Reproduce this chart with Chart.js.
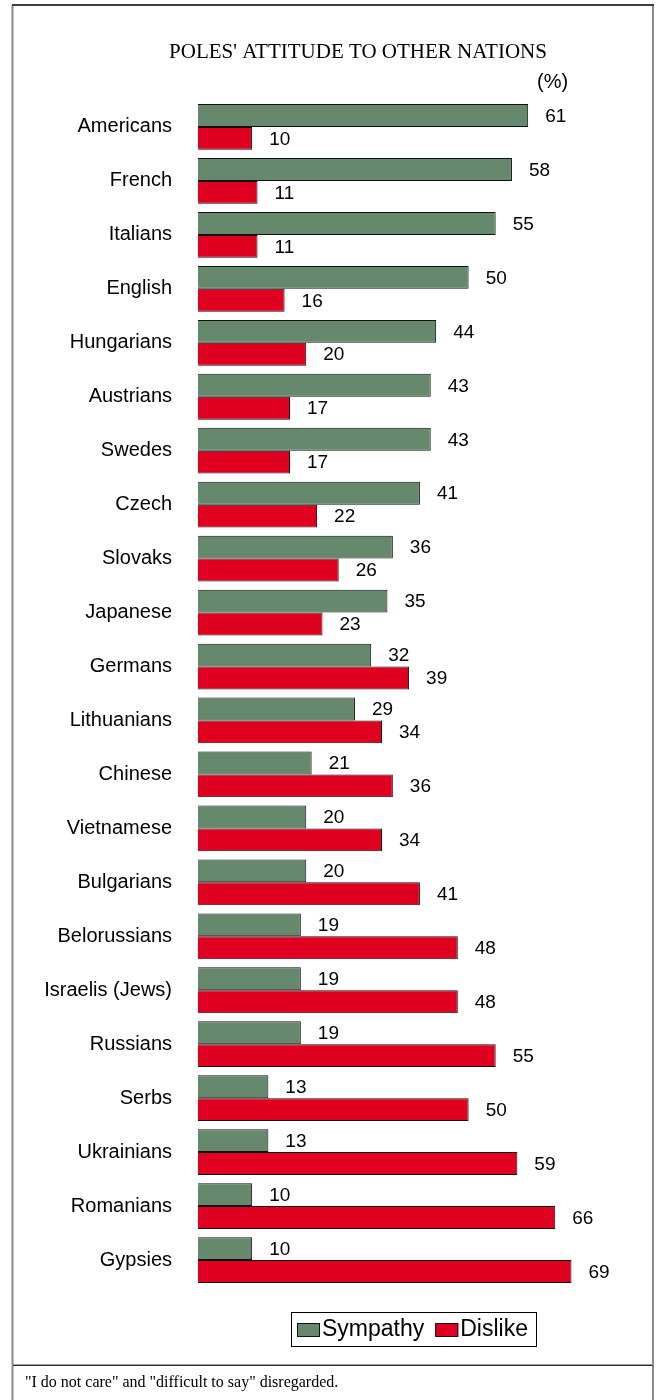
<!DOCTYPE html>
<html>
<head>
<meta charset="utf-8">
<script src="https://cdn.jsdelivr.net/npm/chart.js@4.4.0/dist/chart.umd.min.js"></script>
<style>
  html, body { margin: 0; padding: 0; background: #fff; }
  #wrap { width: 657px; height: 1400px; position: relative; }
  canvas { display: block; }
</style>
</head>
<body>
<div id="wrap"><canvas id="c" width="657" height="1400"></canvas></div>
<script>
// Survey data: share of Poles declaring sympathy / dislike towards each nation (%)
const nations = [
  'Americans', 'French', 'Italians', 'English', 'Hungarians', 'Austrians',
  'Swedes', 'Czech', 'Slovaks', 'Japanese', 'Germans', 'Lithuanians',
  'Chinese', 'Vietnamese', 'Bulgarians', 'Belorussians', 'Israelis (Jews)',
  'Russians', 'Serbs', 'Ukrainians', 'Romanians', 'Gypsies'
];
const sympathy = [61, 58, 55, 50, 44, 43, 43, 41, 36, 35, 32, 29, 21, 20, 20, 19, 19, 19, 13, 13, 10, 10];
const dislike  = [10, 11, 11, 16, 20, 17, 17, 22, 26, 23, 39, 34, 36, 34, 41, 48, 48, 55, 50, 59, 66, 69];
const seriesNames = ['Sympathy', 'Dislike'];

const chartTitle = "POLES' ATTITUDE TO OTHER NATIONS";
const unitLabel = '(%)';
const footnote = '"I do not care" and "difficult to say" disregarded.';

const GREEN = '#66896e';
const RED = '#e00020';
const SANS = '"Liberation Sans", Arial, sans-serif';
const SERIF = '"Liberation Serif", "Times New Roman", serif';

// Frame, title, unit note, value labels, legend box and footnote
const decorations = {
  id: 'decorations',
  beforeDraw(chart) {
    const ctx = chart.ctx;
    ctx.save();
    ctx.fillStyle = '#fff';
    ctx.fillRect(0, 0, chart.width, chart.height);
    ctx.restore();
  },
  afterDatasetsDraw(chart) {
    const ctx = chart.ctx;
    ctx.save();
    ctx.fillStyle = '#000';
    ctx.font = '19px ' + SANS;
    ctx.textAlign = 'left';
    ctx.textBaseline = 'middle';
    chart.data.datasets.forEach((ds, di) => {
      const meta = chart.getDatasetMeta(di);
      meta.data.forEach((bar, i) => {
        ctx.fillText(String(ds.data[i]), bar.x + 17, bar.y + 1);
      });
    });
    ctx.restore();
  },
  afterDraw(chart) {
    const ctx = chart.ctx;
    ctx.save();

    // outer frame
    ctx.lineWidth = 2;
    ctx.strokeStyle = '#8a8a8a';
    ctx.beginPath();
    ctx.moveTo(12.5, 5); ctx.lineTo(12.5, 1400);
    ctx.moveTo(653, 5); ctx.lineTo(653, 1400);
    ctx.stroke();
    ctx.strokeStyle = '#3c3c3c';
    ctx.beginPath();
    ctx.moveTo(12, 5); ctx.lineTo(654, 5);
    ctx.stroke();

    // footnote separator
    ctx.lineWidth = 1;
    ctx.strokeStyle = '#9a9a9a';
    ctx.beginPath();
    ctx.moveTo(13, 1364.5); ctx.lineTo(653, 1364.5);
    ctx.stroke();
    ctx.strokeStyle = '#333';
    ctx.beginPath();
    ctx.moveTo(13, 1365.5); ctx.lineTo(653, 1365.5);
    ctx.stroke();

    // title
    ctx.fillStyle = '#000';
    ctx.font = '21px ' + SERIF;
    ctx.textAlign = 'center';
    ctx.textBaseline = 'middle';
    ctx.fillText(chartTitle, 358, 52);

    // unit
    ctx.font = '20px ' + SANS;
    ctx.textAlign = 'left';
    ctx.fillText(unitLabel, 537, 82);

    // legend
    const lx = 291, ly = 1312, lh = 34;
    ctx.font = '23px ' + SANS;
    let x = lx + 6;
    const items = chart.data.datasets.map(ds => ({ label: ds.label, color: ds.backgroundColor }));
    const boxW = 23, boxH = 14;
    const positions = [];
    items.forEach((it, i) => {
      positions.push(x);
      x += boxW + 2 + ctx.measureText(it.label).width + (i < items.length - 1 ? 11 : 0);
    });
    const lw = x - lx + 8;
    ctx.lineWidth = 1;
    ctx.strokeStyle = '#000';
    ctx.strokeRect(lx + 0.5, ly + 0.5, lw, lh);
    items.forEach((it, i) => {
      const px = positions[i];
      ctx.fillStyle = it.color;
      ctx.fillRect(px, ly + 11, boxW, boxH);
      ctx.strokeStyle = '#111';
      ctx.strokeRect(px + 0.5, ly + 11.5, boxW - 1, boxH - 1);
      ctx.fillStyle = '#000';
      ctx.textAlign = 'left';
      ctx.textBaseline = 'middle';
      ctx.fillText(it.label, px + boxW + 2, ly + lh / 2 + 1);
    });

    // footnote
    ctx.font = '16px ' + SERIF;
    ctx.textAlign = 'left';
    ctx.textBaseline = 'alphabetic';
    ctx.fillStyle = '#000';
    ctx.fillText(footnote, 25, 1387);

    ctx.restore();
  }
};

new Chart(document.getElementById('c'), {
  type: 'bar',
  data: {
    labels: nations,
    datasets: [
      { label: seriesNames[0], data: sympathy, backgroundColor: GREEN, borderColor: '#111', borderWidth: 1 },
      { label: seriesNames[1], data: dislike, backgroundColor: RED, borderColor: '#111', borderWidth: 1 }
    ]
  },
  options: {
    indexAxis: 'y',
    responsive: false,
    animation: false,
    devicePixelRatio: 1,
    categoryPercentage: 0.848,
    barPercentage: 1.0,
    layout: { padding: { top: 100, bottom: 113, left: 0, right: 26 } },
    scales: {
      x: { display: false, min: 0, max: 80 },
      y: {
        grid: { display: false, drawTicks: false },
        border: { display: false },
        ticks: { padding: 26, color: '#000', font: { family: SANS, size: 20 } },
        afterFit(scale) { scale.width = 198; }
      }
    },
    plugins: {
      legend: { display: false },
      title: { display: false },
      tooltip: { enabled: false }
    }
  },
  plugins: [decorations]
});
</script>
</body>
</html>
